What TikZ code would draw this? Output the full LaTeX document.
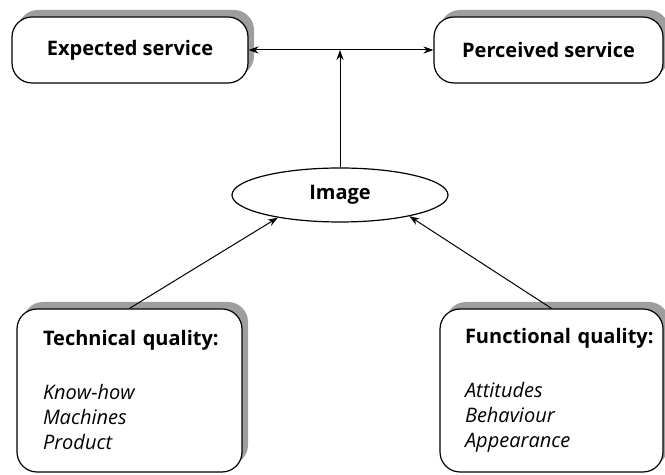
\documentclass[tikz,border=0pt]{standalone}
\usepackage{fontspec}
\setmainfont{Open Sans}
\usetikzlibrary{shapes.geometric,shadows,arrows.meta}
\begin{document}
\begin{tikzpicture}[x=0.5pt,y=-0.5pt,
    every node/.style={font=\fontsize{10}{12.5}\selectfont},
    box/.style={draw,line width=0.6pt,fill=white,rounded corners=10pt,
        drop shadow={shadow xshift=3pt,shadow yshift=3.5pt,fill=black!38,opacity=1}},
    qual/.style={box,minimum height=81.5pt,text width=86.5pt,align=left},
    link/.style={line width=0.5pt,>={Stealth[length=5pt,width=3.6pt]}}]
    \useasboundingbox (0,0) rectangle (665,475);

    \node[box,font=\fontsize{10}{12.5}\selectfont\bfseries,minimum width=118pt,minimum height=33pt] (exp) at (130,50) {Expected service};
    \node[box,font=\fontsize{10}{12.5}\selectfont\bfseries,minimum width=114.5pt,minimum height=33pt] (per) at (548.5,50) {Perceived service};
    \node[draw,ellipse,line width=0.6pt,inner sep=0pt,minimum width=108pt,minimum height=27pt,font=\fontsize{10}{12.5}\selectfont\bfseries] (img) at (340,195) {Image};

    \node[qual,inner xsep=13pt] (tech) at (129.5,390.5)
        {\mbox{\textbf{Technical quality:}}\\[14.5pt] \textit{Know-how}\\ \textit{Machines}\\ \textit{Product}};
    \node[qual,inner xsep=12.5pt] (func) at (551.5,390.5)
        {\mbox{\textbf{Functional quality:}}\\[14.5pt] \textit{Attitudes}\\ \textit{Behaviour}\\ \textit{Appearance}};

    \coordinate (top) at (img.north |- exp.east);
    \draw[link,<->] (exp.east) -- (per.west);
    \draw[link,->] (img.north) -- (top);
    \draw[link,->] (tech.north) -- (img.200);
    \draw[link,->] (func.north) -- (img.343);
\end{tikzpicture}
\end{document}
